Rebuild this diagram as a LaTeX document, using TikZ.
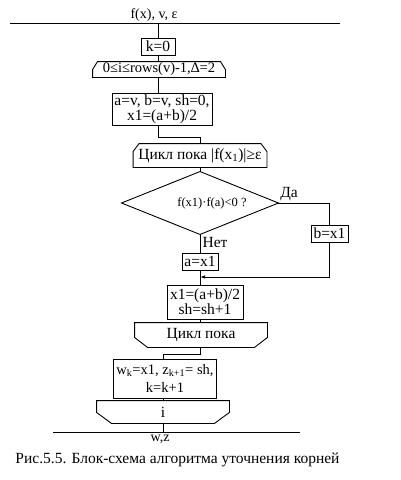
\documentclass[tikz,border=0pt]{standalone}
\usepackage{fontspec}
\setmainfont{Liberation Serif}
\usetikzlibrary{arrows.meta}
\newcommand\drawLoopTop[3]{\draw ([xshift=#2]#1.north west) -- ([xshift=-#2]#1.north east) -- ([yshift=-#3]#1.north east) -- (#1.south east) -- (#1.south west) -- ([yshift=-#3]#1.north west) -- cycle;}
\newcommand\drawLoopBot[3]{\draw (#1.north west) -- (#1.north east) -- ([yshift=#3]#1.south east) -- ([xshift=-#2]#1.south east) -- ([xshift=#2]#1.south west) -- ([yshift=#3]#1.south west) -- cycle;}
\begin{document}
\begin{tikzpicture}[x=1pt,y=1pt, line width=0.9pt,
  every node/.style={inner sep=0pt, font=\fontsize{15.5}{15}\selectfont},
  box/.style={draw, rectangle, align=center},
  frame/.style={rectangle, align=center},
  smalltxt/.style={font=\fontsize{12.5}{13}\selectfont},
  labeltxt/.style={font=\fontsize{14}{15}\selectfont},
  arr/.style={-{Latex[length=5pt,width=3.5pt]}}]
\useasboundingbox (0,0) rectangle (400,-480);

% input line
\coordinate (tl) at (10,-23);
\coordinate (tr) at (340,-23);
\draw (tl) -- (tr);
\node[labeltxt] (inp) at (154,-15) {f(x), v, ε};

\node[box, minimum width=34pt, minimum height=17pt] (k0) at (158,-46.5) {k=0};
\node[frame, font=\fontsize{14.5}{15}\selectfont, minimum width=132pt, minimum height=15pt] (h1) at (159,-69.5) {0≤i≤rows(v)-1,∆=2};
\drawLoopTop{h1}{5pt}{8pt}
\node[box, minimum width=100pt, minimum height=32pt] (ab) at (162,-109) {a=v, b=v, sh=0,\\x1=(a+b)/2};
\node[frame, minimum width=133pt, minimum height=23pt] (h2) at (200,-155.5) {Цикл пока |f(x\textsubscript{1})|≥ε};
\drawLoopTop{h2}{6pt}{8pt}

\node[frame, smalltxt, minimum width=156pt, minimum height=62pt] (cond) at (200,-203) {\hspace*{24pt}f(x1)·f(a)<0 ?};
\draw (cond.north) -- (cond.east) -- (cond.south) -- (cond.west) -- cycle;
\node (yes) at (289,-194) {Да};
\node (no) at (215,-242.5) {Нет};

\node[box, minimum width=37pt, minimum height=17pt] (bx) at (329.5,-233.5) {b=x1};
\node[box, minimum width=36pt, minimum height=17pt] (ax) at (200,-261.5) {a=x1};
\coordinate (merge) at (200,-277);

\node[box, minimum width=76pt, minimum height=34pt] (xb) at (205,-302) {x1=(a+b)/2\\sh=sh+1};
\node[frame, minimum width=132pt, minimum height=24pt] (h3) at (201,-335) {Цикл пока};
\drawLoopBot{h3}{13pt}{10pt}
\coordinate (j2) at (200,-354);

\node[box, font=\fontsize{14.5}{17.5}\selectfont, minimum width=103pt, minimum height=39pt] (wb) at (165,-378.5) {w\textsubscript{k}=x1, z\textsubscript{k+1}= sh,\\k=k+1};
\node[frame, minimum width=132pt, minimum height=22pt] (h4) at (163,-412) {i};
\drawLoopBot{h4}{15pt}{11pt}

\coordinate (bl) at (53,-432);
\coordinate (br) at (300,-432);
\draw (bl) -- (br);
\node[labeltxt] (outp) at (160,-439.5) {w,z};

\node (cap) at (177.5,-460) {Рис.5.5. Блок-схема алгоритма уточнения корней};

% connectors
\draw (k0.north |- tl) -- (k0.north);
\draw (k0.south) -- (k0.south |- h1.north);
\draw (h1.south -| k0.south) -- (ab.north -| k0.south);
\draw (ab.south -| k0.south) -- ++(0,-12) -| (h2.north);
\draw (h2.south) -- (cond.north);
\draw (cond.east) -| (bx.north);
\draw[arr] (bx.south) |- (merge);
\draw (cond.south) -- (ax.north);
\draw (ax.south) -- (ax.south |- xb.north);
\draw (xb.south -| ax.south) -- (h3.north -| ax.south);
\draw (h3.south -| ax.south) -- (j2) -| (wb.north -| h4.north);
\draw (wb.south -| h4.north) -- (h4.north);
\draw (h4.south) -- (h4.south |- bl);
\end{tikzpicture}
\end{document}
